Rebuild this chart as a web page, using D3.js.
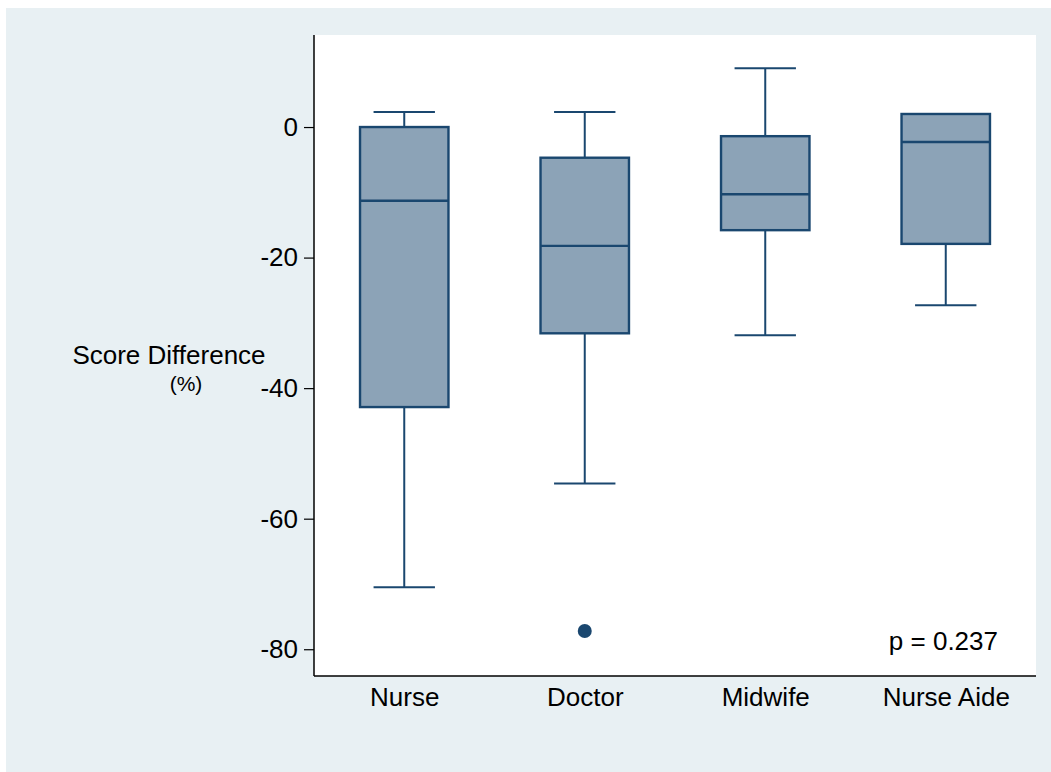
<!DOCTYPE html>
<html>
<head>
<meta charset="utf-8">
<script src="https://cdn.jsdelivr.net/npm/d3@7"></script>
<style>
  html, body { margin: 0; padding: 0; background: #ffffff; }
  svg { display: block; font-family: "Liberation Sans", Arial, Helvetica, sans-serif; }
</style>
</head>
<body>
<svg id="chart" width="1051" height="772"></svg>
<script>
// Score difference (%) by professional role
const categories = ["Nurse", "Doctor", "Midwife", "Nurse Aide"];
const whiskerHigh = [2.3, 2.3, 9.0, 2.0];
const upperQuartile = [0, -4.7, -1.4, 2.0];
const medians = [-11.3, -18.2, -10.3, -2.3];
const lowerQuartile = [-42.9, -31.6, -15.8, -17.9];
const whiskerLow = [-70.5, -54.6, -31.9, -27.3];
const outliers = [{ cat: "Doctor", value: -77.2 }];
const yTicks = [0, -20, -40, -60, -80];
const pValueLabel = "p = 0.237";

const boxes = categories.map((c, i) => ({
  cat: c, hi: whiskerHigh[i], q3: upperQuartile[i], med: medians[i],
  q1: lowerQuartile[i], lo: whiskerLow[i]
}));

const svg = d3.select("#chart");
const W = 1051, H = 772;
const plot = { left: 314, right: 1036, top: 35, bottom: 676 };

const navy = "#1a476f";
const fill = "#8ca3b7";
const fontFam = "'Liberation Sans', Arial, Helvetica, sans-serif";

// outer background
svg.append("rect").attr("x", 6).attr("y", 8).attr("width", W - 6).attr("height", H - 8)
  .attr("fill", "#e8f0f3");
// plot region
svg.append("rect").attr("x", plot.left).attr("y", plot.top)
  .attr("width", plot.right - plot.left).attr("height", plot.bottom - plot.top)
  .attr("fill", "#ffffff");

const x = d3.scalePoint().domain(categories).range([plot.left, plot.right]).padding(0.5);
const y = d3.scaleLinear().domain([-84.1, 14.1]).range([plot.bottom, plot.top]);

const step = x.step();
const boxW = step * 0.49;
const capW = step * 0.34;

// y axis (plain hyphen for negative numbers)
const yAxis = svg.append("g").attr("transform", `translate(${plot.left},0)`)
  .call(d3.axisLeft(y).tickValues(yTicks).tickSize(10).tickPadding(6).tickFormat(d => String(d)));
yAxis.select(".domain").attr("d", `M0,${plot.top}V${plot.bottom}`).attr("stroke", "#000").attr("stroke-width", 1.5);
yAxis.selectAll(".tick line").attr("stroke", "#000").attr("stroke-width", 1.2);
yAxis.selectAll(".tick text").attr("font-size", 26).attr("fill", "#000")
  .attr("font-family", fontFam);

// x axis
const xAxis = svg.append("g").attr("transform", `translate(0,${plot.bottom})`)
  .call(d3.axisBottom(x).tickSize(0).tickPadding(12));
xAxis.select(".domain").attr("d", `M${plot.left},0H${plot.right}`).attr("stroke", "#000").attr("stroke-width", 1.5);
xAxis.selectAll(".tick text").attr("font-size", 26).attr("fill", "#000")
  .attr("font-family", fontFam);

// boxplots
const g = svg.append("g");
const bx = g.selectAll("g.box").data(boxes).join("g").attr("class", "box");

// whiskers
bx.append("line").attr("x1", d => x(d.cat)).attr("x2", d => x(d.cat))
  .attr("y1", d => y(d.hi)).attr("y2", d => y(d.q3))
  .attr("stroke", navy).attr("stroke-width", 2);
bx.append("line").attr("x1", d => x(d.cat)).attr("x2", d => x(d.cat))
  .attr("y1", d => y(d.q1)).attr("y2", d => y(d.lo))
  .attr("stroke", navy).attr("stroke-width", 2);
// caps
bx.append("line").attr("x1", d => x(d.cat) - capW / 2).attr("x2", d => x(d.cat) + capW / 2)
  .attr("y1", d => y(d.hi)).attr("y2", d => y(d.hi))
  .attr("stroke", navy).attr("stroke-width", 2);
bx.append("line").attr("x1", d => x(d.cat) - capW / 2).attr("x2", d => x(d.cat) + capW / 2)
  .attr("y1", d => y(d.lo)).attr("y2", d => y(d.lo))
  .attr("stroke", navy).attr("stroke-width", 2);
// box
bx.append("rect").attr("x", d => x(d.cat) - boxW / 2).attr("width", boxW)
  .attr("y", d => y(d.q3)).attr("height", d => y(d.q1) - y(d.q3))
  .attr("fill", fill).attr("stroke", navy).attr("stroke-width", 2.4);
// median
bx.append("line").attr("x1", d => x(d.cat) - boxW / 2).attr("x2", d => x(d.cat) + boxW / 2)
  .attr("y1", d => y(d.med)).attr("y2", d => y(d.med))
  .attr("stroke", navy).attr("stroke-width", 2.4);

// outliers
g.selectAll("circle.out").data(outliers).join("circle").attr("class", "out")
  .attr("cx", d => x(d.cat)).attr("cy", d => y(d.value)).attr("r", 7)
  .attr("fill", navy);

// axis title
svg.append("text").attr("x", 169).attr("y", 364).attr("text-anchor", "middle")
  .attr("font-size", 26).attr("fill", "#000").text("Score Difference");
svg.append("text").attr("x", 186).attr("y", 391).attr("text-anchor", "middle")
  .attr("font-size", 21).attr("fill", "#000").text("(%)");

// annotation
svg.append("text").attr("x", 998).attr("y", 650).attr("text-anchor", "end")
  .attr("font-size", 26).attr("fill", "#000").text(pValueLabel);
</script>
</body>
</html>
